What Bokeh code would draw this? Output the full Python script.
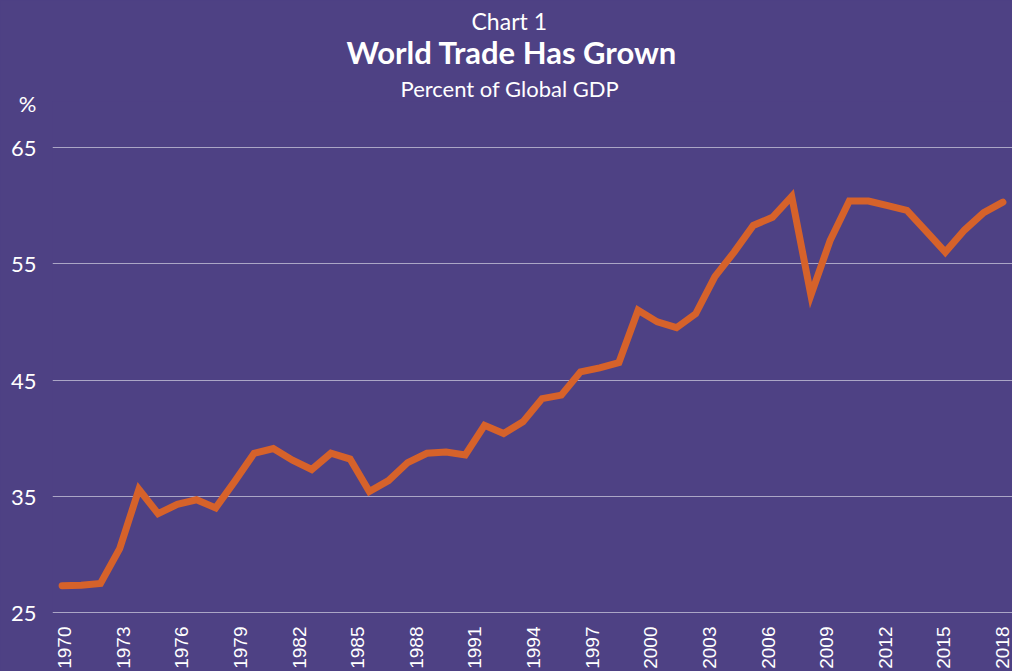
from bokeh.plotting import figure
from bokeh.models import Range1d, LinearAxis, FixedTicker, Title, Grid
from bokeh.embed import file_html
from bokeh.resources import INLINE

# ---- data ----
obs_years = [1970, 1971, 1972, 1973, 1974, 1975, 1976, 1977, 1978, 1979,
             1980, 1981, 1982, 1983, 1984, 1985, 1986, 1987, 1988, 1989,
             1990, 1991, 1992, 1993, 1994, 1995, 1996, 1997, 1998, 1999,
             2000, 2001, 2002, 2003, 2004, 2005, 2006, 2007, 2008, 2009,
             2010, 2011, 2012, 2013, 2014, 2015, 2016, 2017, 2018, 2019]
trade_pct = [27.3, 27.35, 27.5, 30.5, 35.6, 33.5, 34.3, 34.7, 34.0, 36.3,
             38.7, 39.1, 38.1, 37.3, 38.7, 38.2, 35.4, 36.35, 37.9, 38.7,
             38.8, 38.55, 41.1, 40.4, 41.4, 43.4, 43.7, 45.7, 46.05, 46.5,
             51.0, 50.0, 49.5, 50.7, 53.9, 56.0, 58.3, 59.0, 60.8, 52.3,
             57.0, 60.4, 60.4, 60.0, 59.6, 57.8, 56.0, 57.9, 59.4, 60.3]
x_tick_years = [1970, 1973, 1976, 1979, 1982, 1985, 1988, 1991, 1994,
                1997, 2000, 2003, 2006, 2009, 2012, 2015, 2018]
y_ticks = [25, 35, 45, 55, 65]
unit_pos = 68.8  # where the "%" unit marker sits on the value scale

title_top = "Chart 1"
title_main = "World Trade Has Grown"
title_sub = "Percent of Global GDP"
unit_label = "%"

BG = "#4E4184"
LINE = "#D6622A"
GRID = "#ABA6C6"
WHITE = "#FFFFFF"

p = figure(width=1012, height=671, output_backend="svg", toolbar_location=None,
           x_range=Range1d(1969.386, 2018.51), y_range=Range1d(24.914, 68.96),
           min_border_left=52, min_border_right=0, min_border_top=101,
           min_border_bottom=58, x_axis_location=None, y_axis_location=None,
           styles={"background-color": BG})
p.background_fill_color = BG
p.border_fill_color = BG
p.outline_line_color = None

p.extra_x_ranges = {"obs": Range1d(1969.5, 2019.5)}
p.line(obs_years, trade_pct, x_range_name="obs", line_color=LINE, line_width=7,
       line_cap="round", line_join="miter")

# y axis (with the unit marker as top label)
yax = LinearAxis(ticker=FixedTicker(ticks=y_ticks + [unit_pos]))
yax.major_label_overrides = {unit_pos: unit_label}
yax.axis_line_color = None
yax.major_tick_line_color = None
yax.minor_tick_line_color = None
yax.major_label_standoff = 10
yax.major_label_text_color = WHITE
yax.major_label_text_font = "Lato"
yax.major_label_text_font_size = "22px"
p.add_layout(yax, "left")

# x axis
xax = LinearAxis(ticker=FixedTicker(ticks=x_tick_years))
xax.axis_line_color = None
xax.major_tick_line_color = None
xax.minor_tick_line_color = None
xax.major_label_orientation = 1.5708
xax.major_label_standoff = 7
xax.major_label_text_color = WHITE
xax.major_label_text_font = "Liberation Sans"
xax.major_label_text_font_size = "19px"
p.add_layout(xax, "below")

p.xgrid.visible = False
p.ygrid.visible = False
g = Grid(dimension=1, ticker=FixedTicker(ticks=y_ticks), grid_line_color=GRID,
         grid_line_width=1.2)
p.add_layout(g)

# titles (added closest-to-plot first)
p.add_layout(Title(text=title_sub, align="left", text_color=WHITE, text_font="Lato",
                   text_font_size="22px", text_font_style="normal", standoff=0,
                   offset=348), "above")
p.add_layout(Title(text=title_main, align="left", text_color=WHITE, text_font="Lato",
                   text_font_size="31px", text_font_style="bold", standoff=4,
                   offset=294), "above")
p.add_layout(Title(text=title_top, align="left", text_color=WHITE, text_font="Lato",
                   text_font_size="23px", text_font_style="normal", standoff=-12,
                   offset=419), "above")

open("out.html", "w").write(file_html(p, INLINE))
